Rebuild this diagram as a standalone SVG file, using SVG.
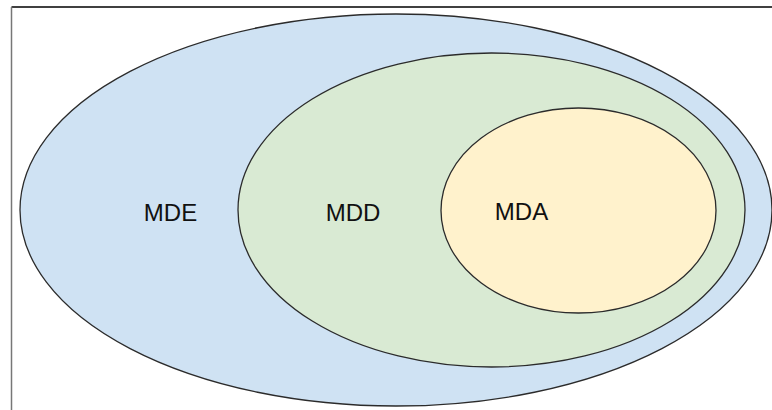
<svg xmlns="http://www.w3.org/2000/svg" width="772" height="410" viewBox="0 0 772 410">
  <style>
    .set { stroke: #2b2b2b; stroke-width: 1.3; }
    .label { font-family: "Liberation Sans", Arial, sans-serif; font-size: 24px; fill: #111; text-anchor: middle; }
  </style>
  <rect width="772" height="410" fill="#ffffff"/>
  <!-- frame edges -->
  <line x1="11.5" y1="7" x2="772" y2="7" stroke="#000" stroke-width="1.5"/>
  <line x1="11.5" y1="7" x2="11.5" y2="410" stroke="#777" stroke-width="1.5"/>
  <g id="mde">
    <ellipse class="set" cx="396" cy="210" rx="376" ry="196" fill="#cfe2f3"/>
    <text class="label" x="170.5" y="220.5">MDE</text>
  </g>
  <g id="mdd">
    <ellipse class="set" cx="491.5" cy="210" rx="253.5" ry="157" fill="#d9ead3"/>
    <text class="label" x="353" y="220.5">MDD</text>
  </g>
  <g id="mda">
    <ellipse class="set" cx="578.5" cy="210.5" rx="137.5" ry="102.5" fill="#fff2cc"/>
    <text class="label" x="521.5" y="220">MDA</text>
  </g>
  <g id="connectors"/>
</svg>
